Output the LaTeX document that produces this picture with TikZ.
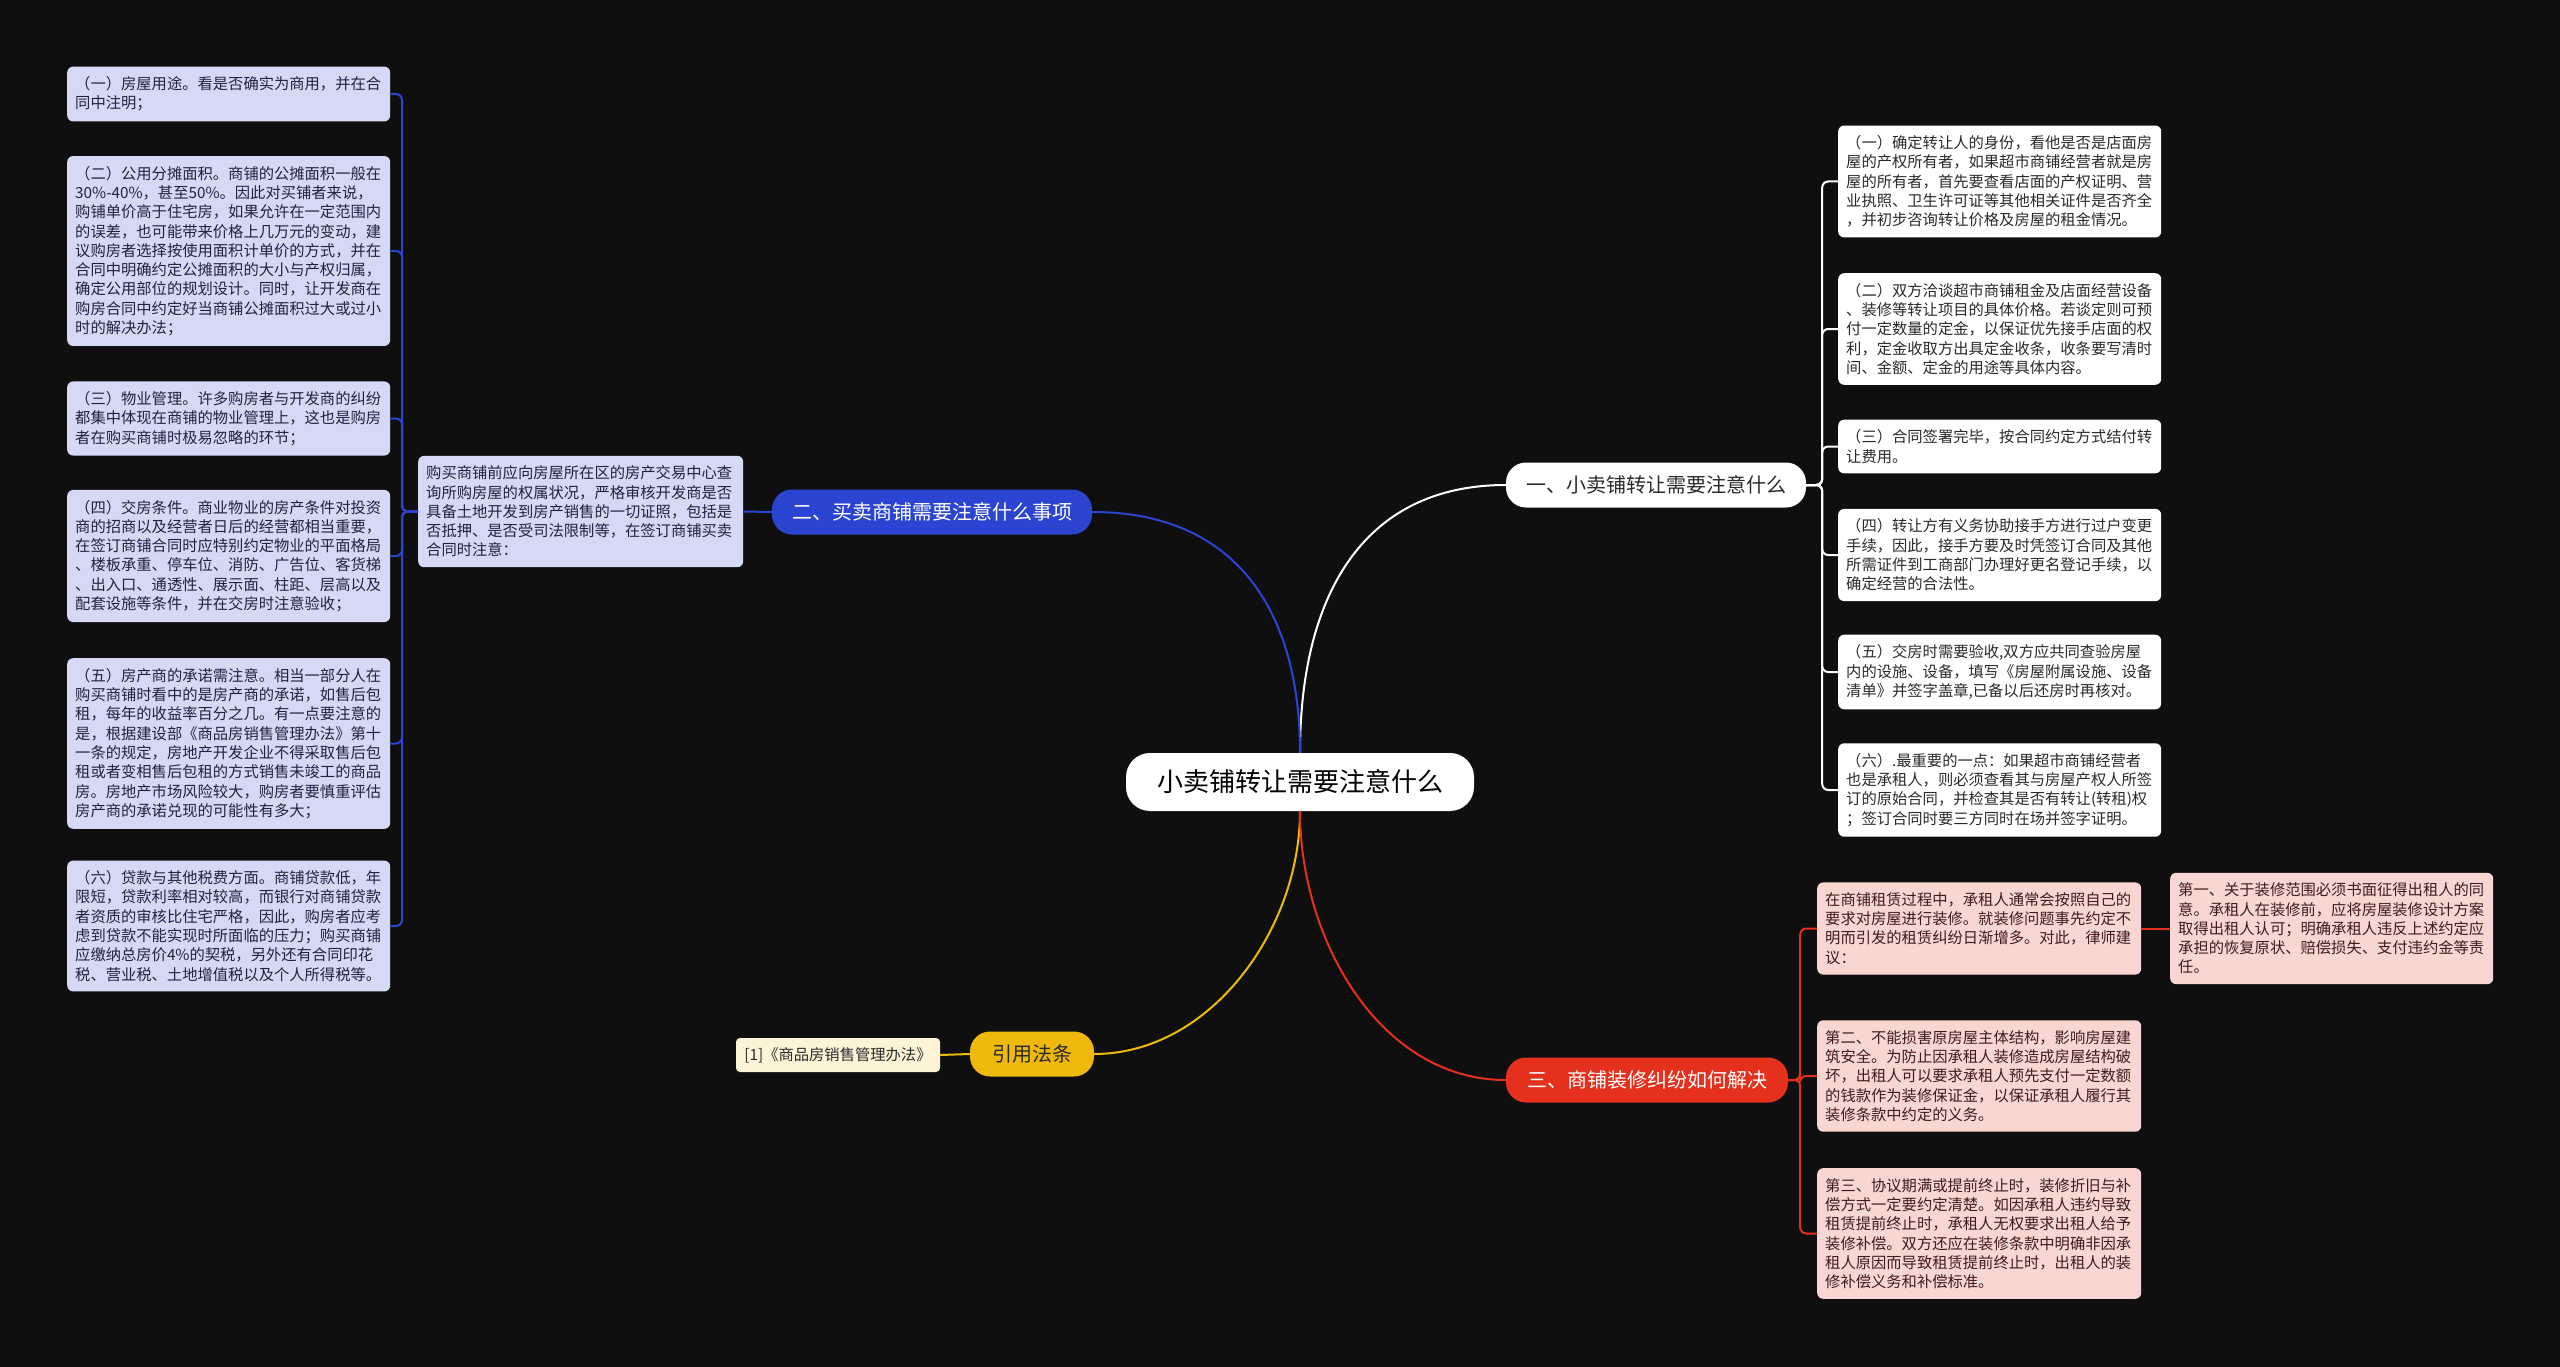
\documentclass[tikz,border=0pt]{standalone}
\usepackage{fontspec}
\setmainfont{Noto Sans CJK SC}
\definecolor{bgc}{HTML}{0F0F0F}
\definecolor{bluec}{HTML}{2B45D2}
\definecolor{redc}{HTML}{E4301C}
\definecolor{yelc}{HTML}{EFB80C}
\definecolor{lavc}{HTML}{D6D9F6}
\definecolor{pinkc}{HTML}{FAD6D3}
\definecolor{creamc}{HTML}{FDF4D8}
\definecolor{navyt}{HTML}{22223E}
\definecolor{brownt}{HTML}{3A1E1E}
\definecolor{greyt}{HTML}{2A2A2A}
\tikzset{
  smalltext/.style={font=\fontsize{15.3}{19.3}\selectfont},
  box/.style={smalltext, rounded corners=6pt, inner xsep=8pt, inner ysep=10pt, align=left, anchor=west},
  lavbox/.style={box, fill=lavc, text=navyt, text width=307pt},
  whitebox/.style={box, fill=white, text=greyt, text width=307pt},
  pinkbox/.style={box, fill=pinkc, text=brownt, text width=308pt},
  branch/.style={font=\fontsize{20}{24}\selectfont, rounded corners=20pt, minimum height=45pt, inner xsep=20pt},
  blueline/.style={draw=bluec, line width=2pt},
  redline/.style={draw=redc, line width=2pt},
  whiteline/.style={draw=white, line width=2pt},
  yelline/.style={draw=yelc, line width=2pt}
}
\begin{document}
\begin{tikzpicture}[x=1pt,y=-1pt]
\fill[bgc] (0,0) rectangle (2560,1367);
\useasboundingbox (0,0) rectangle (2560,1367);

% root and branches
\node[fill=white, text=black, font=\fontsize{26}{30}\selectfont, rounded corners=24pt, minimum width=348pt, minimum height=58pt] (root) at (1300,782) {小卖铺转让需要注意什么};
\node[branch, fill=white, text=greyt, minimum width=300pt] (b1) at (1656,485) {一、小卖铺转让需要注意什么};
\node[branch, fill=bluec, text=white, minimum width=318pt] (b2) at (932,512) {二、买卖商铺需要注意什么事项};
\node[branch, fill=redc, text=white, minimum width=282pt] (b3) at (1647,1080) {三、商铺装修纠纷如何解决};
\node[branch, fill=yelc, text=greyt, minimum width=124pt] (b4) at (1032,1054) {引用法条};
\node[smalltext, fill=creamc, text=greyt, rounded corners=4pt, minimum width=204pt, minimum height=34pt] (cit) at (838,1055) {[1]《商品房销售管理办法》};

% main curves
\draw[whiteline] (root.north) .. controls (1300,600) and (1360,485) .. (b1.west);
\draw[blueline] (root.north) .. controls (1300,616) and (1240,512) .. (b2.east);
\draw[yelline] (root.south) .. controls (1300,930) and (1210,1054) .. (b4.east);
\draw[redline] (root.south) .. controls (1300,940) and (1380,1080) .. (b3.west);
\draw[yelline] (b4.west) -- (cit.east);

% left side
\node[lavbox, text width=309pt] (intro) at (418,511.5) {购买商铺前应向房屋所在区的房产交易中心查\\询所购房屋的权属状况，严格审核开发商是否\\具备土地开发到房产销售的一切证照，包括是\\否抵押、是否受司法限制等，在签订商铺买卖\\合同时注意：};
\draw[blueline] (b2.west) -- (intro.east);

\node[lavbox] (L1) at (67,94) {（一）房屋用途。看是否确实为商用，并在合\\同中注明；};
\node[lavbox] (L2) at (67,251) {（二）公用分摊面积。商铺的公摊面积一般在\\30\%-40\%，甚至50\%。因此对买铺者来说，\\购铺单价高于住宅房，如果允许在一定范围内\\的误差，也可能带来价格上几万元的变动，建\\议购房者选择按使用面积计单价的方式，并在\\合同中明确约定公摊面积的大小与产权归属，\\确定公用部位的规划设计。同时，让开发商在\\购房合同中约定好当商铺公摊面积过大或过小\\时的解决办法；};
\node[lavbox] (L3) at (67,418.5) {（三）物业管理。许多购房者与开发商的纠纷\\都集中体现在商铺的物业管理上，这也是购房\\者在购买商铺时极易忽略的环节；};
\node[lavbox] (L4) at (67,556) {（四）交房条件。商业物业的房产条件对投资\\商的招商以及经营者日后的经营都相当重要，\\在签订商铺合同时应特别约定物业的平面格局\\、楼板承重、停车位、消防、广告位、客货梯\\、出入口、通透性、展示面、柱距、层高以及\\配套设施等条件，并在交房时注意验收；};
\node[lavbox] (L5) at (67,743.5) {（五）房产商的承诺需注意。相当一部分人在\\购买商铺时看中的是房产商的承诺，如售后包\\租，每年的收益率百分之几。有一点要注意的\\是，根据建设部《商品房销售管理办法》第十\\一条的规定，房地产开发企业不得采取售后包\\租或者变相售后包租的方式销售未竣工的商品\\房。房地产市场风险较大，购房者要慎重评估\\房产商的承诺兑现的可能性有多大；};
\node[lavbox] (L6) at (67,926) {（六）贷款与其他税费方面。商铺贷款低，年\\限短，贷款利率相对较高，而银行对商铺贷款\\者资质的审核比住宅严格，因此，购房者应考\\虑到贷款不能实现时所面临的压力；购买商铺\\应缴纳总房价4\%的契税，另外还有合同印花\\税、营业税、土地增值税以及个人所得税等。};
\foreach \n in {L1,L2,L3,L4,L5,L6}{
  \draw[blueline, rounded corners=6pt] (intro.west) -- ++(-16,0) |- (\n.east);
}

% right side (white)
\node[whitebox] (R1) at (1838,181.5) {（一）确定转让人的身份，看他是否是店面房\\屋的产权所有者，如果超市商铺经营者就是房\\屋的所有者，首先要查看店面的产权证明、营\\业执照、卫生许可证等其他相关证件是否齐全\\，并初步咨询转让价格及房屋的租金情况。};
\node[whitebox] (R2) at (1838,329) {（二）双方洽谈超市商铺租金及店面经营设备\\、装修等转让项目的具体价格。若谈定则可预\\付一定数量的定金，以保证优先接手店面的权\\利，定金收取方出具定金收条，收条要写清时\\间、金额、定金的用途等具体内容。};
\node[whitebox] (R3) at (1838,446.5) {（三）合同签署完毕，按合同约定方式结付转\\让费用。};
\node[whitebox] (R4) at (1838,555) {（四）转让方有义务协助接手方进行过户变更\\手续，因此，接手方要及时凭签订合同及其他\\所需证件到工商部门办理好更名登记手续，以\\确定经营的合法性。};
\node[whitebox] (R5) at (1838,672) {（五）交房时需要验收,双方应共同查验房屋\\内的设施、设备，填写《房屋附属设施、设备\\清单》并签字盖章,已备以后还房时再核对。};
\node[whitebox] (R6) at (1838,790) {（六）.最重要的一点：如果超市商铺经营者\\也是承租人，则必须查看其与房屋产权人所签\\订的原始合同，并检查其是否有转让(转租)权\\；签订合同时要三方同时在场并签字证明。};
\foreach \n in {R1,R2,R3,R4,R5,R6}{
  \draw[whiteline, rounded corners=6pt] (b1.east) -- ++(16,0) |- (\n.west);
}

% red side
\node[pinkbox] (P1) at (1817,928.5) {在商铺租赁过程中，承租人通常会按照自己的\\要求对房屋进行装修。就装修问题事先约定不\\明而引发的租赁纠纷日渐增多。对此，律师建\\议：};
\node[pinkbox] (P2) at (1817,1076) {第二、不能损害原房屋主体结构，影响房屋建\\筑安全。为防止因承租人装修造成房屋结构破\\坏，出租人可以要求承租人预先支付一定数额\\的钱款作为装修保证金，以保证承租人履行其\\装修条款中约定的义务。};
\node[pinkbox] (P3) at (1817,1233.5) {第三、协议期满或提前终止时，装修折旧与补\\偿方式一定要约定清楚。如因承租人违约导致\\租赁提前终止时，承租人无权要求出租人给予\\装修补偿。双方还应在装修条款中明确非因承\\租人原因而导致租赁提前终止时，出租人的装\\修补偿义务和补偿标准。};
\node[pinkbox, text width=307pt] (P1a) at (2170,928.5) {第一、关于装修范围必须书面征得出租人的同\\意。承租人在装修前，应将房屋装修设计方案\\取得出租人认可；明确承租人违反上述约定应\\承担的恢复原状、赔偿损失、支付违约金等责\\任。};
\foreach \n in {P1,P2,P3}{
  \draw[redline, rounded corners=6pt] (b3.east) -- ++(12,0) |- (\n.west);
}
\draw[redline] (P1.east) -- (P1a.west);
\end{tikzpicture}
\end{document}
